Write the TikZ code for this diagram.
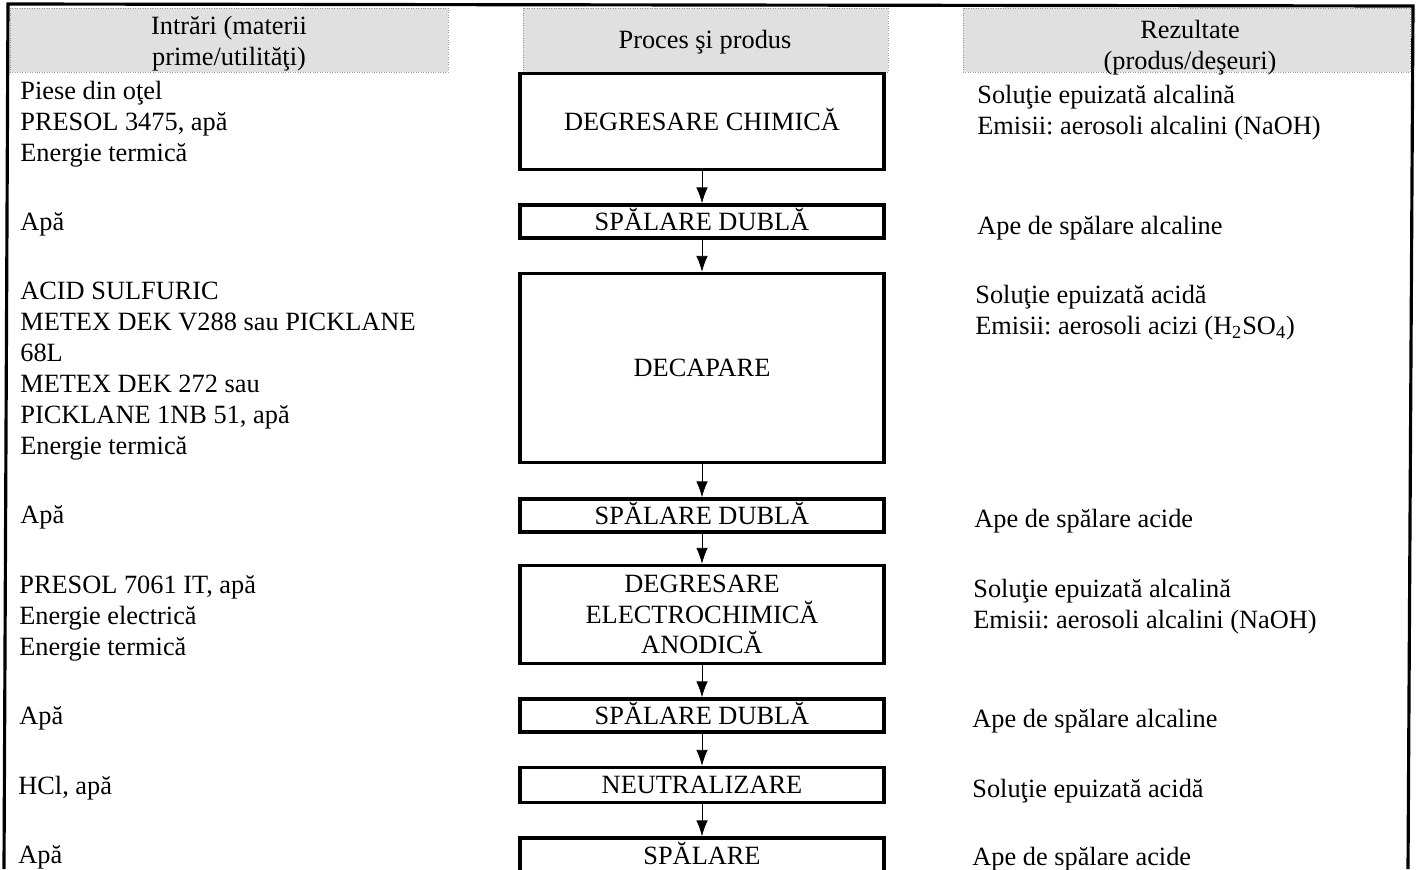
\documentclass[tikz,border=0pt]{standalone}
\usepackage{fontspec}
\setmainfont{Liberation Serif}
\usetikzlibrary{positioning,arrows.meta}
\tikzset{
>={Latex[length=9pt,width=6.5pt]},
  stepbox/.style={
    rectangle,
    draw=black, line width=2pt,
    minimum width=7.28cm,
    inner sep=0pt,
    align=center},
  onerow/.style={text height=10pt, text depth=0pt},
  line/.style={draw, thin, ->},
  inlist/.style={anchor=west, align=left, inner sep=0pt},
  outlist/.style={anchor=west, align=left, inner sep=0pt},
  header/.style={fill=black!12, draw=black!40, densely dotted, thin},
  frame/.style={draw=black, line width=1.8pt},
}

\begin{document}
\frenchspacing
\begin{tikzpicture}[x=0.02cm, y=-0.02cm, node distance=0.64cm,
  font=\fontsize{15}{17.6}\selectfont]
  \useasboundingbox (0,0) rectangle (1420,869);

  % table head
  \path[header] (10,8) rectangle (448,72);
  \path[header] (523,8) rectangle (888,72);
  \path[header] (963,8) rectangle (1410,72);
  \path[frame] (4,869) -- (8,4) -- (1413,6) -- (1408,869);

  \node[align=center] (headin) at (229,44) {Intrări (materii\\prime/utilităţi)};
  \node (headproc) at (705,42) {Proces şi produs};
  \node[align=center] (headout) at (1190,48) {Rezultate\\(produs/deşeuri)};

  % process chain
  \node[stepbox, onerow, minimum height=1.92cm] (item1) at (702,121.5) {DEGRESARE CHIMICĂ};
  \node[stepbox, onerow, minimum height=0.66cm, below=of item1] (item2) {SPĂLARE DUBLĂ};
  \node[stepbox, onerow, minimum height=3.78cm, below=of item2] (item3) {DECAPARE};
  \node[stepbox, onerow, minimum height=0.66cm, below=0.66cm of item3] (item4) {SPĂLARE DUBLĂ};
  \node[stepbox, minimum height=1.96cm, below=0.6cm of item4] (item5) {DEGRESARE\\ELECTROCHIMICĂ\\ANODICĂ};
  \node[stepbox, onerow, minimum height=0.66cm, below=of item5] (item6) {SPĂLARE DUBLĂ};
  \node[stepbox, onerow, minimum height=0.7cm, below=of item6] (item7) {NEUTRALIZARE};
  \node[stepbox, onerow, minimum height=0.7cm, below=of item7] (item8) {SPĂLARE};

  \path[line] (item1) -- (item2);
  \path[line] (item2) -- (item3);
  \path[line] (item3) -- (item4);
  \path[line] (item4) -- (item5);
  \path[line] (item5) -- (item6);
  \path[line] (item6) -- (item7);
  \path[line] (item7) -- (item8);

  % inputs
  \node[inlist] (in1) at (20,124) {Piese din oţel\\PRESOL 3475, apă\\Energie termică};
  \node[inlist] (in2) at (20,224) {Apă};
  \node[inlist] (in3) at (20,371) {ACID SULFURIC\\METEX DEK V288 sau PICKLANE\\68L\\METEX DEK 272 sau\\PICKLANE 1NB 51, apă\\Energie termică};
  \node[inlist] (in4) at (20,517) {Apă};
  \node[inlist] (in5) at (19,618) {PRESOL 7061 IT, apă\\Energie electrică\\Energie termică};
  \node[inlist] (in6) at (19,718) {Apă};
  \node[inlist] (in7) at (18,788) {HCl, apă};
  \node[inlist] (in8) at (18,857) {Apă};

  % outputs
  \node[outlist] (out1) at (977,113) {Soluţie epuizată alcalină\\Emisii: aerosoli alcalini (NaOH)};
  \node[outlist] (out2) at (977,228) {Ape de spălare alcaline};
  \node[outlist] (out3) at (975,313) {Soluţie epuizată acidă\\Emisii: aerosoli acizi (H\textsubscript{2}SO\textsubscript{4})};
  \node[outlist] (out4) at (974,521) {Ape de spălare acide};
  \node[outlist] (out5) at (973,607) {Soluţie epuizată alcalină\\Emisii: aerosoli alcalini (NaOH)};
  \node[outlist] (out6) at (972,721) {Ape de spălare alcaline};
  \node[outlist] (out7) at (972,791) {Soluţie epuizată acidă};
  \node[outlist] (out8) at (972,859) {Ape de spălare acide};
\end{tikzpicture}
\end{document}
